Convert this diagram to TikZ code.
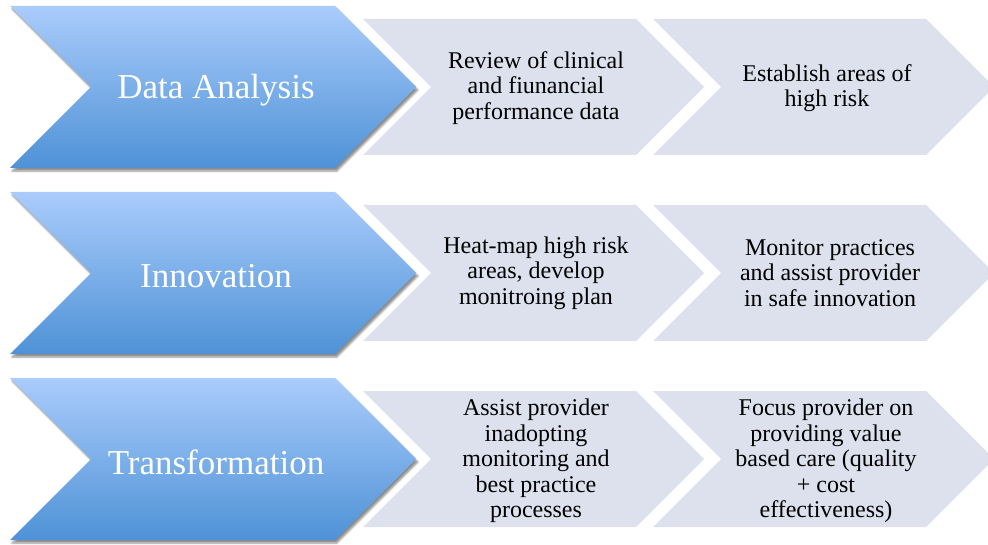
\documentclass[tikz,border=0pt]{standalone}
\usepackage{fontspec}
\setmainfont{Liberation Serif}
\newfontfamily\chevserif{Liberation Serif}
\usetikzlibrary{shadows.blur}
\definecolor{bluetop}{RGB}{170,204,252}
\definecolor{bluebot}{RGB}{78,146,214}
\definecolor{grayfill}{RGB}{220,225,237}
\begin{document}
\begin{tikzpicture}[x=1pt,y=-1pt,
  bluechev/.style={top color=bluetop,bottom color=bluebot,draw=none,
    blur shadow={shadow xshift=2pt,shadow yshift=-3pt,shadow blur steps=6,shadow opacity=45}},
  graychev/.style={fill=grayfill,draw=none},
  bluetext/.style={text=white,font=\chevserif\fontsize{35}{40}\selectfont,align=center,inner sep=0pt},
  graytext/.style={text=black,font=\chevserif\fontsize{24}{25.5}\selectfont,align=center,inner sep=0pt}]
\useasboundingbox (0,0) rectangle (988,545);
\foreach \yc in {87,273,459}{
  \path[bluechev] (10,\yc-81) -- (335,\yc-81) -- (416,\yc) -- (335,\yc+81) -- (10,\yc+81) -- (91,\yc) -- cycle;
  \path[graychev] (363,\yc-68) -- (636,\yc-68) -- (704,\yc) -- (636,\yc+68) -- (363,\yc+68) -- (431,\yc) -- cycle;
  \path[graychev] (653,\yc-68) -- (926,\yc-68) -- (994,\yc) -- (926,\yc+68) -- (653,\yc+68) -- (721,\yc) -- cycle;
}
\node[bluetext] (b1) at (216,90) {Data Analysis};
\node[bluetext] (b2) at (216,276) {Innovation};
\node[bluetext] (b3) at (216,462) {Transformation};
\node[graytext] (g11) at (536,88) {Review of clinical\\and fiunancial\\performance data};
\node[graytext] (g12) at (827,88) {Establish areas of\\high risk};
\node[graytext] (g21) at (536,273) {Heat-map high risk\\areas, develop\\monitroing plan};
\node[graytext] (g22) at (830,273) {Monitor practices\\and assist provider\\in safe innovation};
\node[graytext] (g31) at (536,461) {Assist provider\\inadopting\\monitoring and\\best practice\\processes};
\node[graytext] (g32) at (826,461) {Focus provider on\\providing value\\based care (quality\\+ cost\\effectiveness)};
\end{tikzpicture}
\end{document}
